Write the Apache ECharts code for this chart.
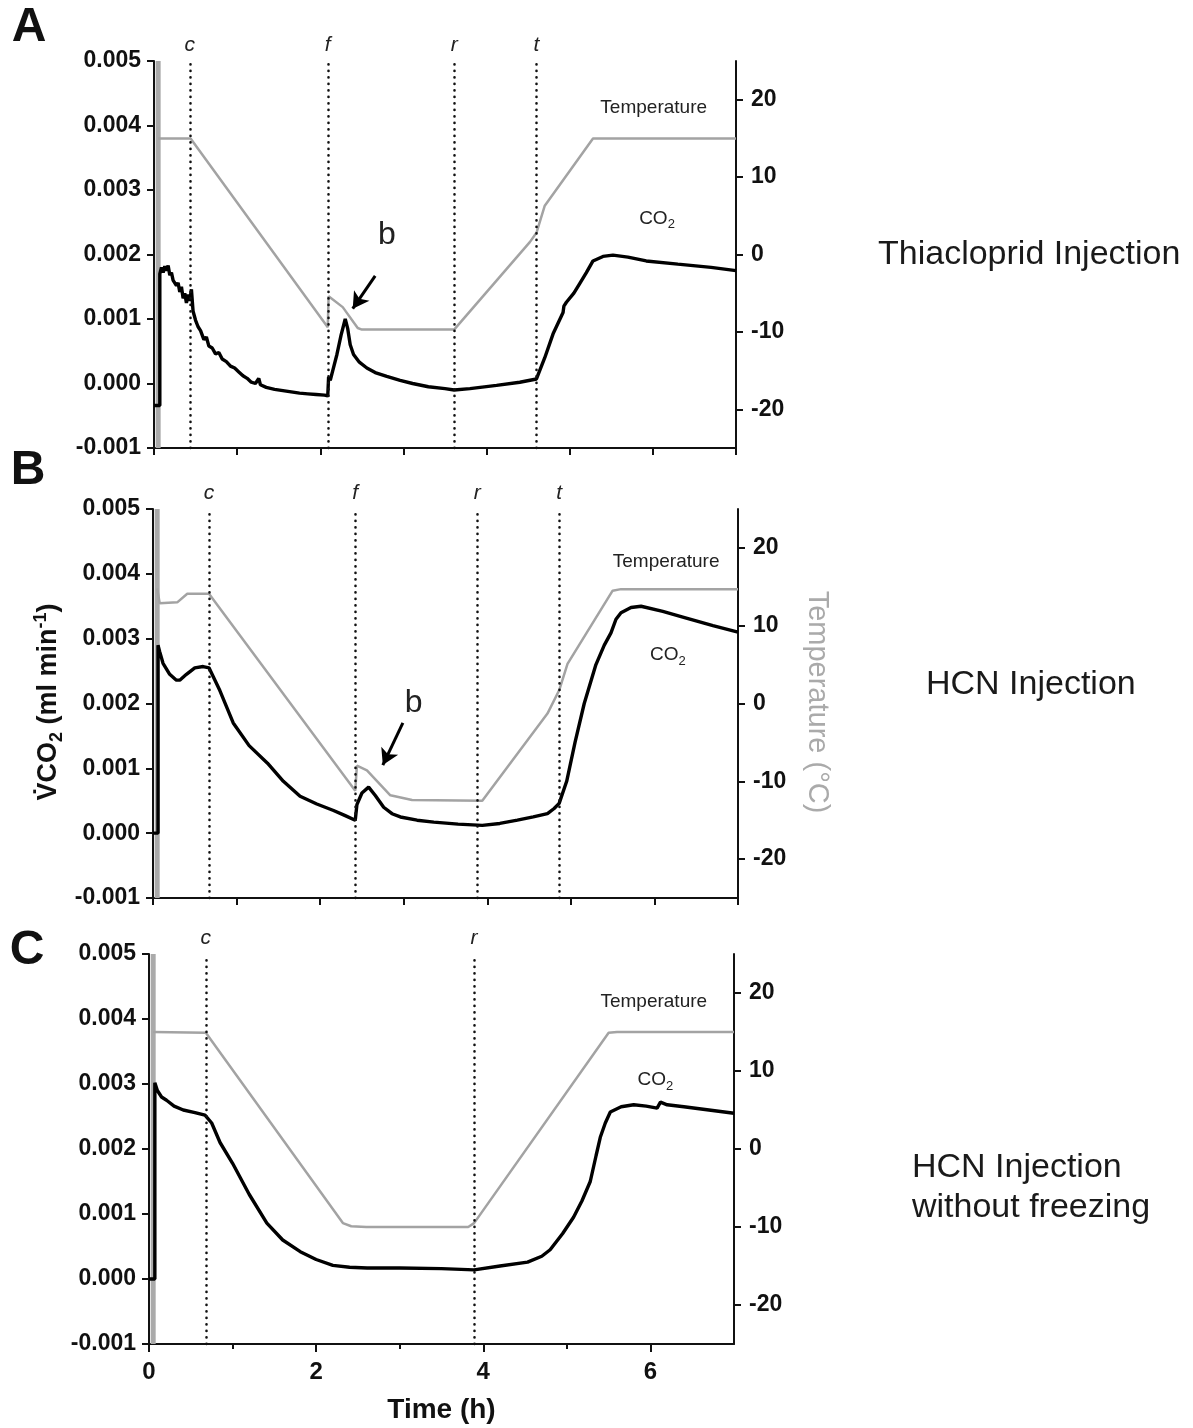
<!DOCTYPE html>
<html>
<head>
<meta charset="utf-8">
<script src="https://cdn.jsdelivr.net/npm/echarts@6/dist/echarts.min.js"></script>
<style>
html,body{margin:0;padding:0;background:#fff;}
#chart{width:1193px;height:1428px;}
</style>
</head>
<body>
<div id="chart"></div>
<script>
// ---------- DATA (time in h, CO2 in ml/min, temperature in °C) ----------
const co2A = [[0,-0.00034],[0.07,-0.00034],[0.07,0.0017],[0.09,0.0018],[0.11,0.00172],[0.13,0.00182],[0.15,0.00175],[0.17,0.00183],[0.19,0.00168],[0.21,0.00172],[0.23,0.0016],[0.25,0.00163],[0.27,0.00152],[0.29,0.00156],[0.31,0.00142],[0.33,0.0015],[0.35,0.00132],[0.37,0.0014],[0.39,0.00125],[0.41,0.00138],[0.43,0.00128],[0.45,0.00146],[0.47,0.00112],[0.50,0.00098],[0.53,0.00088],[0.56,0.00082],[0.60,0.00068],[0.63,0.00072],[0.66,0.00058],[0.70,0.00055],[0.74,0.00046],[0.78,0.00048],[0.82,0.00038],[0.87,0.00034],[0.92,0.00027],[0.97,0.00024],[1.02,0.00018],[1.07,0.00012],[1.12,0.00008],[1.17,0.00002],[1.22,0.0],[1.26,0.00008],[1.28,-0.00002],[1.35,-0.00006],[1.45,-0.00009],[1.55,-0.00011],[1.65,-0.00013],[1.75,-0.00015],[1.85,-0.00016],[1.95,-0.00017],[2.05,-0.00018],[2.09,-0.00019],[2.10,0.0001],[2.12,0.00005],[2.15,0.0002],[2.20,0.00045],[2.25,0.00075],[2.30,0.001],[2.33,0.00085],[2.36,0.0006],[2.40,0.00045],[2.47,0.00033],[2.56,0.00024],[2.66,0.00017],[2.80,0.00011],[2.96,0.00005],[3.11,0.0],[3.30,-0.00005],[3.50,-0.00008],[3.61,-0.0001],[3.80,-0.00008],[4.12,-0.00003],[4.40,0.00002],[4.60,0.00007],[4.70,0.0004],[4.80,0.00077],[4.92,0.0011],[4.93,0.0012],[4.96,0.00126],[5.05,0.0014],[5.12,0.00155],[5.20,0.00172],[5.28,0.0019],[5.40,0.00197],[5.52,0.00199],[5.70,0.00196],[5.92,0.0019],[6.3,0.00185],[6.7,0.0018],[7,0.00175]];
const tempA = [[0.05,15],[0.44,15],[2.09,-9.4],[2.10,-5.4],[2.27,-6.8],[2.45,-9.5],[2.50,-9.7],[3.61,-9.7],[4.52,1.6],[4.60,2.8],[4.70,6.3],[5.28,15],[7,15]];

const co2B = [[0,0],[0.06,0],[0.06,0.0029],[0.08,0.0028],[0.12,0.00262],[0.2,0.00245],[0.28,0.00236],[0.32,0.00236],[0.4,0.00245],[0.5,0.00255],[0.6,0.00257],[0.67,0.00255],[0.8,0.0022],[0.96,0.0017],[1.15,0.00135],[1.37,0.00108],[1.56,0.0008],[1.76,0.00057],[1.96,0.00045],[2.16,0.00035],[2.30,0.00027],[2.42,0.0002],[2.44,0.00044],[2.50,0.00062],[2.58,0.00071],[2.66,0.00058],[2.76,0.0004],[2.86,0.0003],[2.96,0.00025],[3.16,0.0002],[3.36,0.00017],[3.65,0.00014],[3.94,0.00012],[4.15,0.00015],[4.36,0.0002],[4.55,0.00025],[4.72,0.0003],[4.80,0.00038],[4.86,0.00046],[4.95,0.0008],[5.05,0.0014],[5.16,0.002],[5.30,0.0026],[5.40,0.0029],[5.48,0.00309],[5.54,0.0033],[5.60,0.0034],[5.72,0.00348],[5.84,0.0035],[6.1,0.00342],[6.35,0.00333],[6.7,0.0032],[7,0.0031]];
const tempB = [[0.05,14.8],[0.08,12.9],[0.29,13.0],[0.41,14.1],[0.67,14.1],[2.42,-11.2],[2.44,-8.0],[2.56,-8.6],[2.84,-11.8],[3.1,-12.4],[3.94,-12.5],[4.72,-1.3],[4.86,1.7],[4.96,5.1],[5.50,14.5],[5.60,14.7],[7,14.7]];

const co2C = [[0,0],[0.07,0],[0.07,0.00302],[0.1,0.0029],[0.15,0.0028],[0.21,0.00275],[0.3,0.00266],[0.41,0.0026],[0.55,0.00256],[0.67,0.00252],[0.75,0.0024],[0.85,0.0021],[1.0,0.00178],[1.2,0.0013],[1.41,0.00086],[1.6,0.0006],[1.81,0.00042],[2.0,0.0003],[2.2,0.00021],[2.4,0.00018],[2.61,0.00017],[3.0,0.00017],[3.5,0.00016],[3.89,0.00014],[4.2,0.0002],[4.53,0.00026],[4.7,0.00035],[4.8,0.00045],[4.95,0.0007],[5.08,0.00095],[5.18,0.0012],[5.28,0.0015],[5.35,0.0019],[5.40,0.00218],[5.46,0.0024],[5.52,0.00257],[5.65,0.00265],[5.80,0.00268],[5.95,0.00266],[6.08,0.00263],[6.12,0.00272],[6.2,0.00268],[6.40,0.00265],[6.7,0.0026],[7,0.00255]];
const tempC = [[0.05,15],[0.68,14.9],[2.32,-9.5],[2.42,-9.9],[2.6,-10],[3.82,-10],[3.89,-9.5],[5.50,14.9],[5.60,15],[7,15]];

// temperature trace at start (off-scale spike)
const tempStartSpike = [[0.05,-25],[0.05,25]];

// event markers (name, time h)
const eventsA = [['c',0.43],['f',2.09],['r',3.61],['t',4.60]];
const eventsB = [['c',0.67],['f',2.42],['r',3.88],['t',4.86]];
const eventsC = [['c',0.68],['r',3.89]];

// annotations (time h, CO2 value)
const arrowA = [[2.66,0.00167],[2.39,0.00116]];
const bLabelA = [2.80,0.0023];
const arrowB = [[2.99,0.0017],[2.75,0.00105]];
const bLabelB = [3.12,0.0020];
const labelPosA = {temp:[6.01,0.00428], co2:[6.05,0.00256]};
const labelPosB = {temp:[6.14,0.00418], co2:[6.16,0.00275]};
const labelPosC = {temp:[6.04,0.00426], co2:[6.06,0.00306]};

// axes
const co2Range = {min:-0.001, max:0.005, interval:0.001};
const tempRange = {min:-25, max:25};
const tempTicks = [-20,-10,0,10,20];
const timeRange = {min:0, max:7};
const timeLabelTicks = [0,2,4,6];
const timeMinorTicks = [1,3,5];

// ---------- CHART ----------
const FONT = '"Liberation Sans", Arial, Helvetica, sans-serif';
const chart = echarts.init(document.getElementById('chart'), null, {renderer:'canvas'});

const grids = [
  {left:154, top:61, width:582, height:387},
  {left:153, top:509, width:585, height:389},
  {left:149, top:954, width:585, height:390}
];

const axisLine = {show:true, onZero:false, lineStyle:{color:'#111', width:2}};
const tickStyle = {lineStyle:{color:'#111', width:2}};

const xAxes = [];
const yAxes = [];
for (let i = 0; i < 3; i++) {
  const isC = i === 2;
  xAxes.push({
    type:'value', gridIndex:i, min:timeRange.min, max:timeRange.max, interval:1,
    axisLine: axisLine,
    axisTick: Object.assign({show:true, length:7, inside:false}, tickStyle, isC ? {customValues: timeLabelTicks, length:8} : {}),
    axisLabel: isC ? {show:true, customValues: timeLabelTicks, margin:16, fontFamily:FONT, fontSize:24, fontWeight:'bold', color:'#111'} : {show:false},
    splitLine:{show:false},
    name: isC ? 'Time (h)' : '',
    nameLocation:'middle', nameGap:52,
    nameTextStyle:{fontFamily:FONT, fontSize:28, fontWeight:'bold', color:'#111'}
  });
  yAxes.push({
    type:'value', gridIndex:i, position:'left', min:co2Range.min, max:co2Range.max, interval:co2Range.interval,
    axisLine: axisLine,
    axisTick: Object.assign({show:true, length:7}, tickStyle),
    axisLabel:{formatter: v => v.toFixed(3), margin:13, fontFamily:FONT, fontSize:23, fontWeight:'bold', color:'#111'},
    splitLine:{show:false}
  });
  yAxes.push({
    type:'value', gridIndex:i, position:'right', min:tempRange.min, max:tempRange.max,
    axisLine: axisLine,
    axisTick: Object.assign({show:true, length:7, customValues: tempTicks}, tickStyle),
    axisLabel:{customValues: tempTicks, margin:15, fontFamily:FONT, fontSize:23, fontWeight:'bold', color:'#111'},
    splitLine:{show:false}
  });
}
// minor ticks on panel C time axis
xAxes.push({
  type:'value', gridIndex:2, min:timeRange.min, max:timeRange.max, position:'bottom',
  axisLine:{show:false, onZero:false},
  axisTick:Object.assign({show:true, length:5, customValues: timeMinorTicks}, tickStyle),
  axisLabel:{show:false}, splitLine:{show:false}
});

function eventMarkLine(events) {
  return {
    silent:true, symbol:['none','none'], animation:false,
    lineStyle:{type:[0.1,6.4], width:2.6, color:'#111', cap:'round'},
    label:{show:true, position:'end', distance:5, formatter: p => p.name, fontFamily:FONT, fontStyle:'italic', fontSize:21, color:'#222'},
    emphasis:{disabled:true},
    data: events.map(e => ({name:e[0], xAxis:e[1]}))
  };
}

function textPoint(coord, formatter, fontSize) {
  return {
    coord: coord, symbol:'circle', symbolSize:1, itemStyle:{color:'rgba(0,0,0,0)'},
    label:{show:true, position:'inside', formatter: formatter, fontFamily:FONT, fontSize: fontSize, color:'#222',
      rich:{
        a:{fontFamily:FONT, fontSize:19, color:'#222', lineHeight:26, verticalAlign:'middle'},
        s:{fontFamily:FONT, fontSize:13, color:'#222', lineHeight:26, verticalAlign:'bottom'}
      }}
  };
}

function panelSeries(i, co2, temp, events, labels, arrow, bLabel) {
  const xi = i, yl = 2*i, yr = 2*i + 1;
  const list = [];
  list.push({
    type:'line', name:'startSpike'+i, xAxisIndex:xi, yAxisIndex:yr, data: tempStartSpike,
    showSymbol:false, symbol:'none', lineStyle:{color:'#aaaaaa', width:5}, z:1, animation:false, silent:true
  });
  list.push({
    type:'line', name:'Temperature'+i, xAxisIndex:xi, yAxisIndex:yr, data: temp,
    showSymbol:false, symbol:'none', lineStyle:{color:'#a3a3a3', width:2.5}, z:2, animation:false, silent:true,
    markLine: eventMarkLine(events)
  });
  const mpData = [
    textPoint(labels.temp, 'Temperature', 19),
    textPoint(labels.co2, '{a|CO}{s|2}', 19)
  ];
  if (bLabel) mpData.push(textPoint(bLabel, 'b', 32));
  const s = {
    type:'line', name:'CO2'+i, xAxisIndex:xi, yAxisIndex:yl, data: co2,
    showSymbol:false, symbol:'none', lineStyle:{color:'#000', width:3.4}, z:3, animation:false, silent:true,
    markPoint:{silent:true, animation:false, data: mpData}
  };
  if (arrow) {
    s.markLine = {
      silent:true, animation:false, symbol:['none','arrow'], symbolSize:[14,16],
      lineStyle:{type:'solid', width:3, color:'#000'}, label:{show:false},
      emphasis:{disabled:true},
      data:[[{coord:arrow[0]},{coord:arrow[1]}]]
    };
  }
  list.push(s);
  return list;
}

const series = [].concat(
  panelSeries(0, co2A, tempA, eventsA, labelPosA, arrowA, bLabelA),
  panelSeries(1, co2B, tempB, eventsB, labelPosB, arrowB, bLabelB),
  panelSeries(2, co2C, tempC, eventsC, labelPosC, null, null)
);

const graphic = [
  {type:'text', x:29, y:28, style:{text:'A', font:'bold 48px '+FONT, fill:'#111', align:'center', verticalAlign:'middle'}},
  {type:'text', x:28, y:471, style:{text:'B', font:'bold 48px '+FONT, fill:'#111', align:'center', verticalAlign:'middle'}},
  {type:'text', x:27, y:951, style:{text:'C', font:'bold 48px '+FONT, fill:'#111', align:'center', verticalAlign:'middle'}},
  {type:'text', x:878, y:255, style:{text:'Thiacloprid Injection', font:'34px '+FONT, fill:'#1a1a1a', align:'left', verticalAlign:'middle'}},
  {type:'text', x:926, y:685, style:{text:'HCN Injection', font:'34px '+FONT, fill:'#1a1a1a', align:'left', verticalAlign:'middle'}},
  {type:'text', x:912, y:1188, style:{text:'HCN Injection\nwithout freezing', font:'34px '+FONT, lineHeight:40, fill:'#1a1a1a', align:'left', verticalAlign:'middle'}},
  {type:'text', x:49, y:702, rotation:Math.PI/2,
    style:{text:'{a|V\u0307CO}{s|2}{a| (ml min}{p|-1}{a|)}', align:'center', verticalAlign:'middle',
      rich:{
        a:{font:'bold 27px '+FONT, fill:'#111', lineHeight:34, verticalAlign:'middle'},
        s:{font:'bold 18px '+FONT, fill:'#111', lineHeight:34, verticalAlign:'bottom'},
        p:{font:'bold 18px '+FONT, fill:'#111', lineHeight:34, verticalAlign:'top'}
      }}},
  {type:'text', x:817, y:702, rotation:-Math.PI/2,
    style:{text:'Temperature (\u00B0C)', font:'29px '+FONT, fill:'#aaaaaa', align:'center', verticalAlign:'middle'}}
];

chart.setOption({
  animation:false,
  backgroundColor:'#ffffff',
  grid: grids,
  xAxis: xAxes,
  yAxis: yAxes,
  series: series,
  graphic: graphic
});
</script>
</body>
</html>
